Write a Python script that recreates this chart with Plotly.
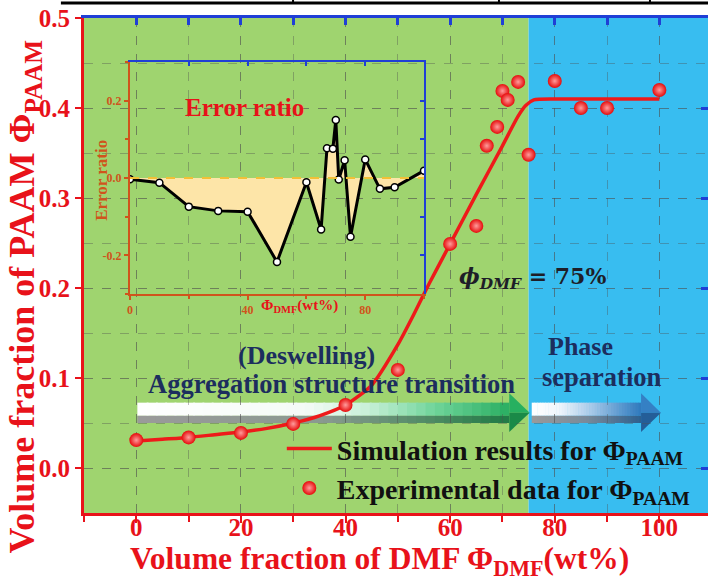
import plotly.graph_objects as go

# ---------------- data ----------------
dmf_exp = [0, 10, 20, 30, 40, 50, 60, 65, 67, 69, 70, 71, 73, 75, 80, 85, 90, 100]
paam_exp = [0.031, 0.034, 0.039, 0.049, 0.070, 0.109, 0.249, 0.269, 0.358, 0.379,
            0.419, 0.409, 0.429, 0.348, 0.430, 0.400, 0.400, 0.420]
dmf_sim = [0, 5, 10, 15, 20, 25, 30, 35, 40, 45, 50, 53, 56, 60, 65, 70, 73, 74.5, 76, 80, 90, 100]
paam_sim = [0.030, 0.032, 0.034, 0.037, 0.040, 0.044, 0.050, 0.058, 0.070, 0.092, 0.137,
            0.170, 0.205, 0.249, 0.304, 0.358, 0.391, 0.403, 0.409, 0.410, 0.410, 0.410]
err_x = [0, 10, 20, 30, 40, 50, 60, 65, 67, 69, 70, 71, 73, 75, 80, 85, 90, 100]
err_y = [-0.003, -0.012, -0.074, -0.085, -0.087, -0.217, -0.011, -0.133, 0.077, 0.076,
         0.150, -0.004, 0.046, -0.152, 0.048, -0.028, -0.024, 0.019]
x_ticks_main = [0, 20, 40, 60, 80, 100]
y_ticks_main = [0.0, 0.1, 0.2, 0.3, 0.4, 0.5]
inset_xticks = [0, 40, 80]
inset_yticks = [-0.2, 0.0, 0.2]
inset_yticktext = ["-0.2", "0.0", "0.2"]

FONT = "Liberation Serif"
RED = "#e8121a"
NAVY = "#1c2e5e"
BLUE = "#1f3fd6"
IRED = "#d0541c"
GRID = "rgba(80,80,80,0.38)"
GREEN_BG = "#9fd46f"
BLUE_BG = "#38bdf0"

fig = go.Figure()

fig.add_trace(go.Scatter(
    x=dmf_sim, y=paam_sim, mode="lines",
    line=dict(color="#ee1a1a", width=3.5, shape="spline", smoothing=0.6),
    name="Simulation results for Φ<sub>PAAM</sub>"))
fig.add_trace(go.Scatter(
    x=dmf_exp, y=paam_exp, mode="markers",
    marker=dict(size=14, color="#e60a0a",
                gradient=dict(type="radial", color="#ff9c9c"),
                line=dict(width=0)),
    name="Experimental data for Φ<sub>PAAM</sub>"))
# invisible helper for the top / right overlay axes
fig.add_trace(go.Scatter(x=dmf_exp, y=paam_exp, xaxis="x2", yaxis="y2", mode="markers",
                         marker=dict(opacity=0), showlegend=False, hoverinfo="skip"))
# inset
fig.add_trace(go.Scatter(
    x=err_x, y=err_y, xaxis="x3", yaxis="y3", mode="lines+markers",
    fill="tozeroy", fillcolor="rgba(253,229,168,1)",
    line=dict(color="black", width=3),
    marker=dict(size=7, color="white", line=dict(color="black", width=1.5)),
    showlegend=False))
fig.add_trace(go.Scatter(x=err_x, y=err_y, xaxis="x4", yaxis="y4", mode="markers",
                         marker=dict(opacity=0), showlegend=False, hoverinfo="skip"))

# ---------------- shapes ----------------
shapes = [
    dict(type="rect", xref="x", yref="y domain", x0=-10, x1=75, y0=0, y1=1,
         fillcolor=GREEN_BG, line=dict(width=0), layer="below"),
    dict(type="rect", xref="x", yref="y domain", x0=75, x1=112, y0=0, y1=1,
         fillcolor=BLUE_BG, line=dict(width=0), layer="below"),
]


def hex2rgb(h):
    return tuple(int(h[i:i + 2], 16) for i in (1, 3, 5))


def interp(stops, t):
    for (t0, c0), (t1, c1) in zip(stops, stops[1:]):
        if t <= t1:
            f = (t - t0) / (t1 - t0) if t1 > t0 else 0
            a, b = hex2rgb(c0), hex2rgb(c1)
            return "rgb(%d,%d,%d)" % tuple(round(a[i] + (b[i] - a[i]) * f) for i in range(3))
    a = hex2rgb(stops[-1][1])
    return "rgb(%d,%d,%d)" % a


def arrow(x0, xh, xt, yb, ym, yt, yhb, yht, top_stops, bot_stops, head_top, head_bot, n=40):
    out = []
    w = (xh - x0) / n
    for i in range(n):
        t = (i + 0.5) / n
        xa = x0 + i * w
        xb = min(xa + w * 1.2, xh)
        out.append(dict(type="rect", xref="x", yref="y", x0=xa, x1=xb, y0=ym, y1=yt,
                        fillcolor=interp(top_stops, t), line=dict(width=0), layer="below"))
        out.append(dict(type="rect", xref="x", yref="y", x0=xa, x1=xb, y0=yb, y1=ym,
                        fillcolor=interp(bot_stops, t), line=dict(width=0), layer="below"))
    yc = (yb + yt) / 2
    out.append(dict(type="path", xref="x", yref="y",
                    path=f"M {xh},{yht} L {xt},{yc} L {xh},{yc} Z",
                    fillcolor=head_top, line=dict(width=0), layer="below"))
    out.append(dict(type="path", xref="x", yref="y",
                    path=f"M {xh},{yc} L {xt},{yc} L {xh},{yhb} Z",
                    fillcolor=head_bot, line=dict(width=0), layer="below"))
    return out


shapes += arrow(0.2, 71.3, 75.2, 0.050, 0.058, 0.0726, 0.040, 0.083,
                [(0, "#ffffff"), (0.45, "#f4fbf6"), (0.62, "#c8f0d8"), (0.8, "#6fd49a"), (1, "#2aae62")],
                [(0, "#9a9a9a"), (0.5, "#8a9a90"), (0.8, "#4c8a62"), (1, "#1f7a45")],
                "#27b060", "#1a8a48")
shapes += arrow(75.6, 96.5, 100.3, 0.050, 0.058, 0.0726, 0.040, 0.083,
                [(0, "#ffffff"), (0.25, "#f0f6fc"), (0.55, "#a6c8e8"), (0.8, "#5f9bd0"), (1, "#2f78bc")],
                [(0, "#9a9a9a"), (0.5, "#7a8a9a"), (1, "#2d5f8e")],
                "#3580c4", "#245e98")

# inset zero dashed line
shapes.append(dict(type="line", xref="x3 domain", yref="y3", x0=0, x1=1, y0=0, y1=0,
                   line=dict(color="#f2c037", width=2, dash="dash"), layer="above"))
# border remnant at the very top of the image
shapes.append(dict(type="line", xref="paper", yref="paper", x0=-0.037, x1=1.0, y0=1.0303, y1=1.0303,
                   line=dict(color="black", width=3)))
for px in (0.335, 0.665, 0.907):
    shapes.append(dict(type="line", xref="paper", yref="paper", x0=px, x1=px, y0=1.0303, y1=1.0364,
                       line=dict(color="black", width=2)))

# ---------------- annotations ----------------
ann = []


def add_text(text, x, y, size, color, xanchor="center", angle=0, family=FONT):
    ann.append(dict(text=text, x=x, y=y, xref="paper", yref="paper", showarrow=False,
                    xanchor=xanchor, yanchor="middle", textangle=angle,
                    font=dict(family=family, size=size, color=color)))


add_text("<b>Volume fraction of DMF Φ<sub>DMF</sub>(wt%)</b>", 0.474, -0.097, 31.5, RED)
add_text("<b>Volume fraction of PAAM Φ<sub>PAAM</sub></b>", -0.095, 0.437, 36, RED, angle=-90)
add_text("<b>Error ratio</b>", 0.258, 0.820, 25, RED)
add_text("<b>Φ<sub>DMF</sub>(wt%)</b>", 0.346, 0.418, 15, RED)
add_text("<b>Error ratio</b>", 0.0288, 0.673, 17, IRED, angle=-90)
add_text("<b>(Deswelling)</b>", 0.356, 0.319, 26, NAVY)
add_text("<b>Aggregation structure transition</b>", 0.396, 0.261, 26.5, NAVY)
add_text("<b>Phase</b>", 0.741, 0.337, 26, NAVY, xanchor="left")
add_text("<b>separation</b>", 0.731, 0.275, 26.5, NAVY, xanchor="left")
add_text("<b><i>ϕ</i><sub><i>DMF</i></sub> = 75%</b>", 0.718, 0.475, 22, "#1e1e28", family="DejaVu Serif")

tickfont_main = dict(family=FONT, size=25, color=RED, weight="bold")
tickfont_inset = dict(family=FONT, size=12, color=IRED, weight="bold")

fig.update_layout(
    width=708, height=581,
    margin=dict(l=84, r=0, t=18, b=68),
    paper_bgcolor="white", plot_bgcolor="rgba(0,0,0,0)",
    shapes=shapes, annotations=ann,
    showlegend=True,
    legend=dict(x=0.317, y=0.18, xanchor="left", yanchor="top", itemwidth=45,
                bgcolor="rgba(0,0,0,0)", tracegroupgap=0,
                font=dict(family=FONT, size=28, color="#111111", weight="bold")),
    xaxis=dict(domain=[0, 1], anchor="y", range=[-10, 109.3],
               tickvals=x_ticks_main, tickfont=tickfont_main, ticklabelstandoff=-17,
               showline=True, linecolor=RED, linewidth=3,
               ticks="outside", ticklen=7, tickwidth=2, tickcolor=RED,
               showgrid=True, gridcolor=GRID, griddash="dash", gridwidth=1,
               minor=dict(dtick=10, tick0=0, ticks="outside", ticklen=6, tickwidth=2, tickcolor=RED,
                          showgrid=True, gridcolor=GRID, griddash="dash", gridwidth=1),
               zeroline=False),
    yaxis=dict(domain=[0, 1], anchor="x", range=[-0.05, 0.5],
               tickvals=y_ticks_main, tickformat=".1f", tickfont=tickfont_main,
               showline=True, linecolor=RED, linewidth=3,
               ticks="outside", ticklen=6, tickwidth=2, tickcolor=RED,
               showgrid=True, gridcolor=GRID, griddash="dash", gridwidth=1,
               minor=dict(dtick=0.05, tick0=0, ticks="", showgrid=True,
                          gridcolor=GRID, griddash="dash", gridwidth=1),
               zeroline=False),
    xaxis2=dict(overlaying="x", side="top", anchor="y", range=[-10, 109.3],
                showline=True, linecolor=BLUE, linewidth=3,
                ticks="inside", tick0=0, dtick=10, ticklen=7, tickwidth=2.5, tickcolor=BLUE,
                showticklabels=False, showgrid=False, zeroline=False),
    yaxis2=dict(overlaying="y", side="right", anchor="x", range=[-0.05, 0.5],
                showline=False, ticks="inside", tick0=0, dtick=0.1, ticklen=7, tickwidth=2.5,
                tickcolor=BLUE, showticklabels=False, showgrid=False, zeroline=False),
    xaxis3=dict(domain=[0.0737, 0.5449], anchor="y3", range=[0, 100],
                tickvals=inset_xticks, tickfont=tickfont_inset,
                showline=True, linecolor=IRED, linewidth=2,
                ticks="outside", ticklen=4, tickwidth=1.5, tickcolor=IRED,
                minor=dict(dtick=20, tick0=0, ticks="outside", ticklen=3, tickcolor=IRED),
                showgrid=False, zeroline=False),
    yaxis3=dict(domain=[0.4424, 0.9111], anchor="x3", range=[-0.3, 0.3],
                tickvals=inset_yticks, ticktext=inset_yticktext, tickfont=tickfont_inset,
                showline=True, linecolor=IRED, linewidth=2,
                ticks="outside", ticklen=4, tickwidth=1.5, tickcolor=IRED,
                minor=dict(dtick=0.1, tick0=0, ticks="outside", ticklen=3, tickcolor=IRED),
                showgrid=False, zeroline=False),
    xaxis4=dict(overlaying="x3", side="top", anchor="y3", range=[0, 100],
                showline=True, linecolor=BLUE, linewidth=2,
                ticks="inside", tick0=0, dtick=20, ticklen=4, tickwidth=1.5, tickcolor=BLUE,
                showticklabels=False, showgrid=False, zeroline=False),
    yaxis4=dict(overlaying="y3", side="right", anchor="x3", range=[-0.3, 0.3],
                showline=True, linecolor=BLUE, linewidth=2,
                ticks="inside", tick0=0, dtick=0.1, ticklen=4, tickwidth=1.5, tickcolor=BLUE,
                showticklabels=False, showgrid=False, zeroline=False),
)

fig.write_html("out.html")
